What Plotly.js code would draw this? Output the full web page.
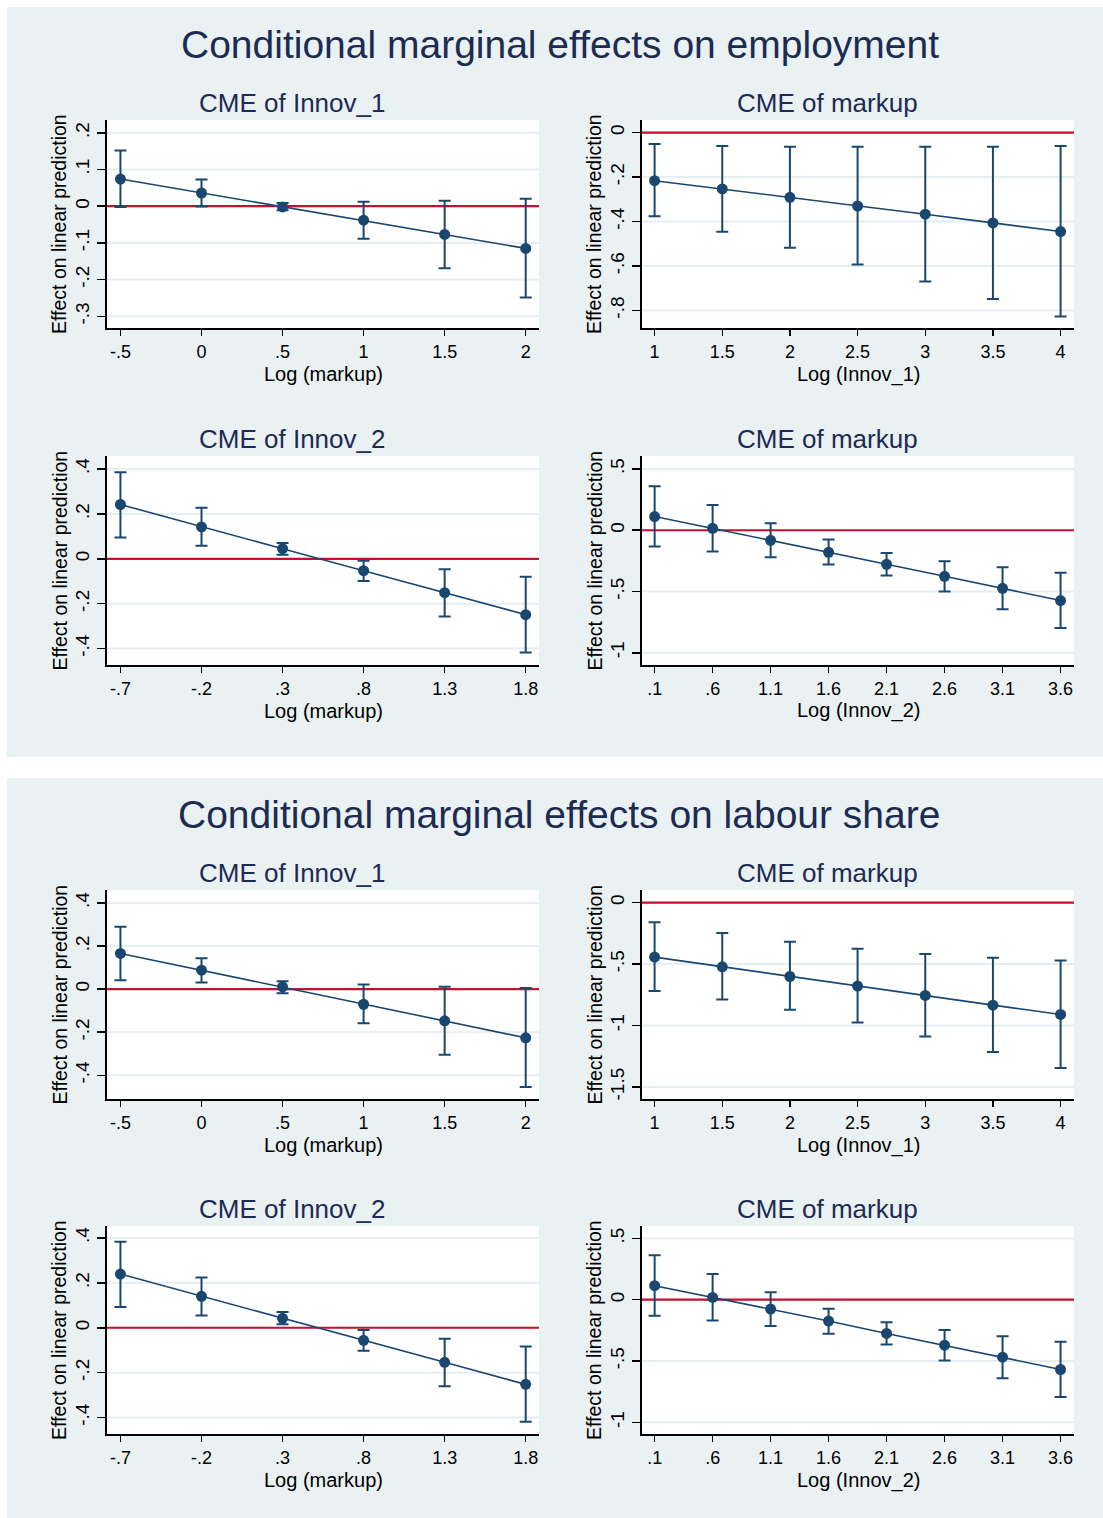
<!DOCTYPE html>
<html>
<head>
<meta charset="utf-8">
<script src="https://cdn.plot.ly/plotly-3.0.1.min.js"></script>
<style>html,body{margin:0;padding:0;background:#fff;}#chart{width:1103px;height:1518px;}</style>
</head>
<body>
<div id="chart"></div>
<script>
// ---------- DATA ----------
const panelTitles = ["Conditional marginal effects on employment", "Conditional marginal effects on labour share"];
const subTitles = ["CME of Innov_1", "CME of markup", "CME of Innov_2", "CME of markup"];
const xTitles = ["Log (markup)", "Log (Innov_1)", "Log (markup)", "Log (Innov_2)"];
const yTitle = "Effect on linear prediction";

const xMarkupA = [-0.5, 0, 0.5, 1, 1.5, 2];
const xMarkupA_text = ["-.5", "0", ".5", "1", "1.5", "2"];
const xInnov1 = [1, 1.5, 2, 2.5, 3, 3.5, 4];
const xInnov1_text = ["1", "1.5", "2", "2.5", "3", "3.5", "4"];
const xMarkupB = [-0.7, -0.2, 0.3, 0.8, 1.3, 1.8];
const xMarkupB_text = ["-.7", "-.2", ".3", ".8", "1.3", "1.8"];
const xInnov2 = [0.1, 0.6, 1.1, 1.6, 2.1, 2.6, 3.1, 3.6];
const xInnov2_text = [".1", ".6", "1.1", "1.6", "2.1", "2.6", "3.1", "3.6"];

// Employment
const empInnov1_b  = [0.074, 0.036, -0.002, -0.038, -0.077, -0.115];
const empInnov1_lo = [-0.002, -0.001, -0.011, -0.089, -0.169, -0.249];
const empInnov1_hi = [0.152, 0.073, 0.009, 0.012, 0.015, 0.020];

const empMarkup1_b  = [-0.216, -0.253, -0.291, -0.330, -0.367, -0.406, -0.445];
const empMarkup1_lo = [-0.376, -0.446, -0.518, -0.593, -0.670, -0.748, -0.827];
const empMarkup1_hi = [-0.051, -0.060, -0.063, -0.063, -0.063, -0.063, -0.060];

const empInnov2_b  = [0.242, 0.142, 0.045, -0.053, -0.151, -0.249];
const empInnov2_lo = [0.095, 0.058, 0.018, -0.099, -0.257, -0.417];
const empInnov2_hi = [0.386, 0.227, 0.071, -0.009, -0.046, -0.080];

const empMarkup2_b  = [0.112, 0.016, -0.082, -0.180, -0.278, -0.376, -0.474, -0.574];
const empMarkup2_lo = [-0.133, -0.174, -0.220, -0.280, -0.370, -0.501, -0.645, -0.797];
const empMarkup2_hi = [0.359, 0.207, 0.057, -0.076, -0.185, -0.253, -0.302, -0.346];

// Labour share
const labInnov1_b  = [0.166, 0.088, 0.011, -0.070, -0.147, -0.226];
const labInnov1_lo = [0.042, 0.031, -0.019, -0.158, -0.305, -0.454];
const labInnov1_hi = [0.290, 0.144, 0.037, 0.022, 0.011, 0.005];

const labMarkup1_b  = [-0.443, -0.522, -0.601, -0.679, -0.755, -0.834, -0.910];
const labMarkup1_lo = [-0.720, -0.788, -0.872, -0.976, -1.090, -1.215, -1.345];
const labMarkup1_hi = [-0.160, -0.247, -0.318, -0.375, -0.418, -0.448, -0.470];

const labInnov2_b  = [0.239, 0.140, 0.042, -0.056, -0.154, -0.252];
const labInnov2_lo = [0.092, 0.055, 0.016, -0.102, -0.260, -0.419];
const labInnov2_hi = [0.383, 0.224, 0.070, -0.010, -0.049, -0.083];

const labMarkup2_b  = [0.114, 0.019, -0.076, -0.174, -0.275, -0.371, -0.469, -0.569];
const labMarkup2_lo = [-0.131, -0.169, -0.215, -0.278, -0.365, -0.496, -0.640, -0.793];
const labMarkup2_hi = [0.362, 0.210, 0.060, -0.074, -0.183, -0.248, -0.297, -0.343];

// Y ticks
const yt_p1 = [0.2, 0.1, 0, -0.1, -0.2, -0.3], yt_p1_text = [".2", ".1", "0", "-.1", "-.2", "-.3"];
const yt_p2 = [0, -0.2, -0.4, -0.6, -0.8], yt_p2_text = ["0", "-.2", "-.4", "-.6", "-.8"];
const yt_p3 = [0.4, 0.2, 0, -0.2, -0.4], yt_p3_text = [".4", ".2", "0", "-.2", "-.4"];
const yt_p4 = [0.5, 0, -0.5, -1], yt_p4_text = [".5", "0", "-.5", "-1"];
const yt_p6 = [0, -0.5, -1, -1.5], yt_p6_text = ["0", "-.5", "-1", "-1.5"];

// ---------- STYLE / LAYOUT ----------
const W = 1103, H = 1518;
const NAVY = "#1A476F", RED = "#C8102E", TITLE = "#1C2B52", PANEL = "#EAF1F3", GRID = "#E6EEF1";
const FONT = "Liberation Sans, Arial, Helvetica, sans-serif";

const colX = [[107, 539], [642, 1074]];
const rowY = [[120, 328], [456, 665], [890, 1099], [1226, 1434]];

const plots = [
  {x: xMarkupA, xt: xMarkupA_text, b: empInnov1_b, lo: empInnov1_lo, hi: empInnov1_hi, xr: [-0.583, 2.082], yr: [-0.332, 0.235], yt: yt_p1, ytt: yt_p1_text, col: 0, row: 0, st: 0},
  {x: xInnov1, xt: xInnov1_text, b: empMarkup1_b, lo: empMarkup1_lo, hi: empMarkup1_hi, xr: [0.907, 4.099], yr: [-0.879, 0.057], yt: yt_p2, ytt: yt_p2_text, col: 1, row: 0, st: 1},
  {x: xMarkupB, xt: xMarkupB_text, b: empInnov2_b, lo: empInnov2_lo, hi: empInnov2_hi, xr: [-0.783, 1.882], yr: [-0.473, 0.458], yt: yt_p3, ytt: yt_p3_text, col: 0, row: 1, st: 2},
  {x: xInnov2, xt: xInnov2_text, b: empMarkup2_b, lo: empMarkup2_lo, hi: empMarkup2_hi, xr: [-0.009, 3.716], yr: [-1.10, 0.606], yt: yt_p4, ytt: yt_p4_text, col: 1, row: 1, st: 3},
  {x: xMarkupA, xt: xMarkupA_text, b: labInnov1_b, lo: labInnov1_lo, hi: labInnov1_hi, xr: [-0.583, 2.082], yr: [-0.51, 0.4605], yt: yt_p3, ytt: yt_p3_text, col: 0, row: 2, st: 0},
  {x: xInnov1, xt: xInnov1_text, b: labMarkup1_b, lo: labMarkup1_lo, hi: labMarkup1_hi, xr: [0.907, 4.099], yr: [-1.598, 0.103], yt: yt_p6, ytt: yt_p6_text, col: 1, row: 2, st: 1},
  {x: xMarkupB, xt: xMarkupB_text, b: labInnov2_b, lo: labInnov2_lo, hi: labInnov2_hi, xr: [-0.783, 1.882], yr: [-0.473, 0.453], yt: yt_p3, ytt: yt_p3_text, col: 0, row: 3, st: 2},
  {x: xInnov2, xt: xInnov2_text, b: labMarkup2_b, lo: labMarkup2_lo, hi: labMarkup2_hi, xr: [-0.009, 3.716], yr: [-1.095, 0.601], yt: yt_p4, ytt: yt_p4_text, col: 1, row: 3, st: 3}
];

const data = [];
const layout = {
  width: W, height: H,
  margin: {l: 0, r: 0, t: 0, b: 0},
  paper_bgcolor: PANEL,
  plot_bgcolor: "#ffffff",
  showlegend: false,
  font: {family: FONT, color: "#000"},
  shapes: [
    {type: "rect", xref: "paper", yref: "paper", x0: 0, x1: 1, y0: 1 - 7 / H, y1: 1, fillcolor: "#fff", line: {width: 0}, layer: "above"},
    {type: "rect", xref: "paper", yref: "paper", x0: 0, x1: 7 / W, y0: 0, y1: 1, fillcolor: "#fff", line: {width: 0}, layer: "above"},
    {type: "rect", xref: "paper", yref: "paper", x0: 0, x1: 1, y0: 1 - 778 / H, y1: 1 - 757 / H, fillcolor: "#fff", line: {width: 0}, layer: "above"}
  ],
  annotations: [
    {text: panelTitles[0], xref: "paper", yref: "paper", x: 560 / W, y: 1 - 44 / H, xanchor: "center", yanchor: "middle", showarrow: false, font: {size: 39, color: TITLE, family: FONT}},
    {text: panelTitles[1], xref: "paper", yref: "paper", x: 559 / W, y: 1 - 814 / H, xanchor: "center", yanchor: "middle", showarrow: false, font: {size: 39, color: TITLE, family: FONT}}
  ]
};

const subTitleX = [292, 827];
const subTitleY = [103, 439, 873, 1209];
const yTitleX = [59, 594];

plots.forEach((p, i) => {
  const n = i + 1;
  const xa = "xaxis" + n, ya = "yaxis" + n;
  const xs = "x" + n, ys = "y" + n;
  data.push({
    type: "scatter", mode: "lines+markers",
    x: p.x, y: p.b, xaxis: xs, yaxis: ys,
    line: {color: NAVY, width: 1.6},
    marker: {color: NAVY, size: 11},
    error_y: {
      type: "data", symmetric: false,
      array: p.hi.map((h, k) => h - p.b[k]),
      arrayminus: p.lo.map((l, k) => p.b[k] - l),
      color: NAVY, thickness: 2, width: 6
    },
    hoverinfo: "skip"
  });
  const cx = colX[p.col], ry = rowY[p.row];
  layout[xa] = {
    domain: [cx[0] / W, cx[1] / W], anchor: ys, range: p.xr,
    tickmode: "array", tickvals: p.x, ticktext: p.xt,
    ticks: "outside", ticklen: 6, tickwidth: 1.5, tickcolor: "#000",
    showline: true, linecolor: "#000", linewidth: 2,
    showgrid: false, zeroline: false,
    tickfont: {size: 18, family: FONT, color: "#000"},
    fixedrange: true
  };
  layout[ya] = {
    domain: [1 - ry[1] / H, 1 - ry[0] / H], anchor: xs, range: p.yr,
    tickmode: "array", tickvals: p.yt, ticktext: p.ytt, tickangle: -90,
    ticks: "outside", ticklen: 8, tickwidth: 1.5, tickcolor: "#000",
    showline: true, linecolor: "#000", linewidth: 2,
    showgrid: false, zeroline: false,
    tickfont: {size: 19, family: FONT, color: "#000"},
    fixedrange: true
  };
  // horizontal gridlines at the y ticks, then the red zero reference line
  p.yt.forEach(v => {
    layout.shapes.push({type: "line", xref: xs + " domain", yref: ys, x0: 0, x1: 1, y0: v, y1: v, line: {color: GRID, width: 2}, layer: "below"});
  });
  layout.shapes.push({type: "line", xref: xs + " domain", yref: ys, x0: 0, x1: 1, y0: 0, y1: 0, line: {color: RED, width: 2.2}, layer: "below"});
  // subplot title
  layout.annotations.push({
    text: subTitles[p.st], xref: "paper", yref: "paper",
    x: subTitleX[p.col] / W, y: 1 - subTitleY[p.row] / H,
    xanchor: "center", yanchor: "middle", showarrow: false,
    font: {size: 26, color: TITLE, family: FONT}
  });
  // x axis title
  layout.annotations.push({
    text: xTitles[p.st], xref: "paper", yref: "paper",
    x: (cx[0] + cx[1]) / 2 / W, y: 1 - (ry[1] + 46) / H,
    xanchor: "center", yanchor: "middle", showarrow: false,
    font: {size: 20, color: "#000", family: FONT}
  });
  // y axis title
  layout.annotations.push({
    text: yTitle, xref: "paper", yref: "paper", textangle: -90,
    x: yTitleX[p.col] / W, y: 1 - (ry[0] + ry[1]) / 2 / H,
    xanchor: "center", yanchor: "middle", showarrow: false,
    font: {size: 19.5, color: "#000", family: FONT}
  });
});

Plotly.newPlot("chart", data, layout, {displayModeBar: false, staticPlot: true});
</script>
</body>
</html>
